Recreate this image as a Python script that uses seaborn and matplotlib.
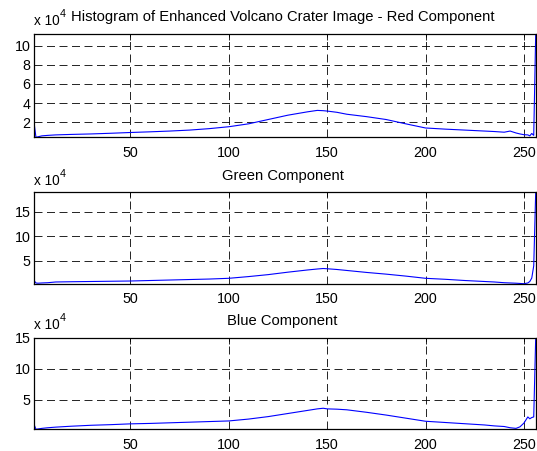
import numpy as np
import pandas as pd
import matplotlib
matplotlib.use("Agg")
import matplotlib.pyplot as plt
import seaborn as sns

# Histogram counts in units of 10^4, sampled at intensity levels
levels = [1, 2, 3, 5, 8, 12, 20, 30, 40, 50, 60, 70, 80, 90, 100, 110, 120, 130, 140, 145, 148,
          150, 155, 160, 170, 180, 190, 200, 210, 220, 230, 235, 240, 243, 246, 248, 250,
          252, 253, 254, 255, 256]
red = [2.0, 0.45, 0.5, 0.6, 0.65, 0.7, 0.75, 0.8, 0.87, 0.95, 1.02, 1.1, 1.2, 1.35, 1.55, 1.85, 2.3,
       2.75, 3.1, 3.25, 3.22, 3.18, 3.05, 2.85, 2.6, 2.3, 1.85, 1.42, 1.3, 1.2, 1.1, 1.05, 0.98,
       1.1, 0.9, 0.8, 0.72, 0.7, 0.6, 0.85, 0.65, 11.2]
green = [1.0, 0.5, 0.45, 0.5, 0.55, 0.7, 0.75, 0.8, 0.85, 0.9, 1.0, 1.1, 1.2, 1.3, 1.45, 1.8, 2.2,
         2.7, 3.15, 3.35, 3.45, 3.4, 3.25, 3.05, 2.65, 2.3, 1.9, 1.45, 1.25, 1.0, 0.8, 0.7, 0.55,
         0.5, 0.45, 0.4, 0.35, 0.5, 0.8, 1.5, 4.0, 19.0]
blue = [1.0, 0.2, 0.25, 0.35, 0.45, 0.55, 0.7, 0.85, 0.95, 1.08, 1.15, 1.25, 1.35, 1.45, 1.55, 1.85,
        2.25, 2.75, 3.25, 3.5, 3.6, 3.5, 3.45, 3.35, 2.95, 2.5, 2.0, 1.5, 1.3, 1.1, 0.9, 0.75,
        0.65, 0.45, 0.35, 0.6, 1.2, 2.2, 1.9, 2.1, 2.2, 15.0]

titles = ["Histogram of Enhanced Volcano Crater Image - Red Component",
          "Green Component", "Blue Component"]
xticks = [50, 100, 150, 200, 250]
yticks = [[2, 4, 6, 8, 10], [5, 10, 15], [5, 10, 15]]
series = [red, green, blue]

sns.set_theme(style="white")
plt.rcParams["font.family"] = ["Liberation Sans", "DejaVu Sans"]

W, H = 537, 451
fig = plt.figure(figsize=(W / 100, H / 100), dpi=100)
fig.patch.set_facecolor("white")

# (left, top, right, bottom) in pixels
boxes = [(34, 34, 535.7, 137.3), (34, 192.3, 535.7, 283.7), (34, 337.7, 535.7, 429.3)]
title_pads = [9.6, 8.9, 9.1]
exp_offsets = [6.3, 5.3, 6.0]

fs = 10.3
tfs = 10.6
for i, (vals, box) in enumerate(zip(series, boxes)):
    l, t, r, b = box
    ax = fig.add_axes([l / W, (H - b) / H, (r - l) / W, (b - t) / H])
    df = pd.DataFrame({"level": levels, "count": vals})
    sns.lineplot(data=df, x="level", y="count", ax=ax, color=(0, 0, 1), linewidth=0.8)
    ax.set_xlim(1, 256)
    ax.set_ylim(min(vals), max(vals))
    ax.set_xticks(xticks)
    ax.set_yticks(yticks[i])
    ax.set_xlabel("")
    ax.set_ylabel("")
    ax.grid(True, color="black", linestyle=(0, (9.6, 5.4)), linewidth=0.6)
    ax.tick_params(direction="in", top=True, right=True, length=4, width=0.6,
                   labelsize=fs, colors="black")
    ax.tick_params(axis="x", pad=6)
    ax.tick_params(axis="y", pad=2.4)
    for s in ax.spines.values():
        s.set_color("black")
        s.set_linewidth(0.9)
    ax.set_title(titles[i], fontsize=tfs, pad=title_pads[i], color="black",
                 x=0.5 - 2.4 / (r - l))
    ann = ax.annotate("x 10", xy=(0, 1), xycoords="axes fraction",
                      xytext=(0, exp_offsets[i]), textcoords="offset points",
                      ha="left", va="baseline", fontsize=fs * 0.95, color="black")
    ax.annotate("4", xy=(1, 1), xycoords=ann,
                xytext=(0.3, 0), textcoords="offset points",
                ha="left", va="center", fontsize=fs * 0.75, color="black")

fig.savefig("out.png", dpi=100, facecolor="white")
